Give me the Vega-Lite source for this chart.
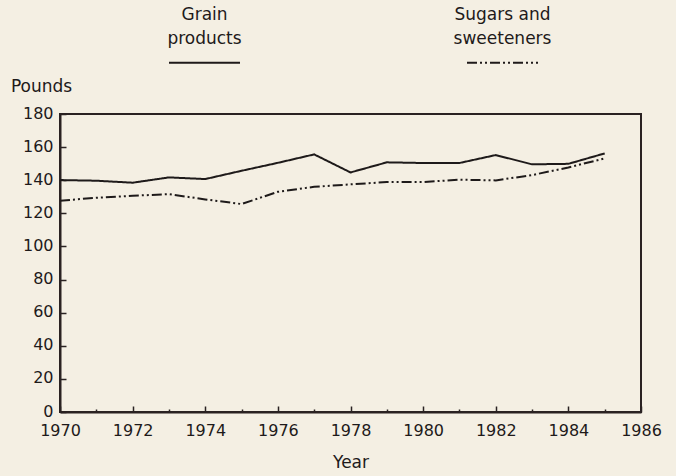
{
  "$schema": "https://vega.github.io/schema/vega-lite/v6.json",
  "width": 581,
  "height": 298,
  "autosize": {"type": "none"},
  "padding": {"left": 60, "top": 114, "right": 35, "bottom": 64},
  "background": "#f4efe3",
  "config": {
    "font": "DejaVu Sans",
    "view": {"stroke": "#2a2222", "strokeWidth": 2},
    "axis": {
      "grid": false,
      "domainColor": "#2a2222",
      "domainWidth": 2,
      "tickColor": "#2a2222",
      "tickWidth": 1.5,
      "labelColor": "#1e1a1a",
      "titleColor": "#1e1a1a",
      "labelFontSize": 16,
      "titleFontSize": 17,
      "titleFontWeight": "normal"
    }
  },
  "data": {
    "values": [
      {"year": 1970, "series": "Grain products", "pounds": 140.1},
      {"year": 1971, "series": "Grain products", "pounds": 139.7},
      {"year": 1972, "series": "Grain products", "pounds": 138.5},
      {"year": 1973, "series": "Grain products", "pounds": 141.7},
      {"year": 1974, "series": "Grain products", "pounds": 140.7},
      {"year": 1975, "series": "Grain products", "pounds": 145.7},
      {"year": 1976, "series": "Grain products", "pounds": 150.5},
      {"year": 1977, "series": "Grain products", "pounds": 155.6},
      {"year": 1978, "series": "Grain products", "pounds": 144.7},
      {"year": 1979, "series": "Grain products", "pounds": 150.8},
      {"year": 1980, "series": "Grain products", "pounds": 150.4},
      {"year": 1981, "series": "Grain products", "pounds": 150.4},
      {"year": 1982, "series": "Grain products", "pounds": 155.2},
      {"year": 1983, "series": "Grain products", "pounds": 149.6},
      {"year": 1984, "series": "Grain products", "pounds": 149.9},
      {"year": 1985, "series": "Grain products", "pounds": 156.2},
      {"year": 1970, "series": "Sugars and sweeteners", "pounds": 127.6},
      {"year": 1971, "series": "Sugars and sweeteners", "pounds": 129.4},
      {"year": 1972, "series": "Sugars and sweeteners", "pounds": 130.6},
      {"year": 1973, "series": "Sugars and sweeteners", "pounds": 131.6},
      {"year": 1974, "series": "Sugars and sweeteners", "pounds": 128.4},
      {"year": 1975, "series": "Sugars and sweeteners", "pounds": 125.6},
      {"year": 1976, "series": "Sugars and sweeteners", "pounds": 133.0},
      {"year": 1977, "series": "Sugars and sweeteners", "pounds": 136.0},
      {"year": 1978, "series": "Sugars and sweeteners", "pounds": 137.5},
      {"year": 1979, "series": "Sugars and sweeteners", "pounds": 138.9},
      {"year": 1980, "series": "Sugars and sweeteners", "pounds": 138.9},
      {"year": 1981, "series": "Sugars and sweeteners", "pounds": 140.3},
      {"year": 1982, "series": "Sugars and sweeteners", "pounds": 139.9},
      {"year": 1983, "series": "Sugars and sweeteners", "pounds": 143.1},
      {"year": 1984, "series": "Sugars and sweeteners", "pounds": 147.7},
      {"year": 1985, "series": "Sugars and sweeteners", "pounds": 153.2}
    ]
  },
  "resolve": {"axis": {"x": "independent"}},
  "layer": [
    {
      "mark": {"type": "line", "strokeWidth": 2, "color": "#1e1a1a"},
      "encoding": {
        "x": {
          "field": "year",
          "type": "quantitative",
          "scale": {"domain": [1970, 1986], "nice": false, "zero": false},
          "axis": {
            "orient": "bottom",
            "values": [1970, 1972, 1974, 1976, 1978, 1980, 1982, 1984, 1986],
            "format": "d",
            "title": "Year",
            "tickSize": -6,
            "labelPadding": 16,
            "titlePadding": 16,
            "labelFlush": false
          }
        },
        "y": {
          "field": "pounds",
          "type": "quantitative",
          "scale": {"domain": [0, 180], "nice": false},
          "axis": {
            "values": [0, 20, 40, 60, 80, 100, 120, 140, 160, 180],
            "title": "Pounds",
            "titleAngle": 0,
            "titleX": -19,
            "titleY": -28,
            "titleAlign": "center",
            "titleBaseline": "middle",
            "tickSize": -6,
            "labelPadding": 13,
            "labelOffset": -1
          }
        },
        "strokeDash": {
          "field": "series",
          "type": "nominal",
          "scale": {
            "domain": ["Grain products", "Sugars and sweeteners"],
            "range": [[1, 0], [10, 3, 2, 3, 2, 3]]
          },
          "legend": {
            "orient": "none",
            "legendX": 108,
            "legendY": -88,
            "direction": "horizontal",
            "columns": 2,
            "title": null,
            "symbolType": "stroke",
            "symbolSize": 5041,
            "symbolStrokeWidth": 2,
            "symbolStrokeColor": "#1e1a1a",
            "labelAlign": "center",
            "labelOffset": -36.5,
            "labelBaseline": "middle",
            "labelFontSize": 17,
            "labelColor": "#1e1a1a",
            "labelLimit": 0,
            "columnPadding": 209,
            "labelExpr": "datum.label == 'Grain products' ? ['Grain', 'products'] : ['Sugars and', 'sweeteners']",
            "encode": {
              "labels": {
                "update": {
                  "dy": {"value": -48},
                  "lineHeight": {"value": 24}
                }
              }
            }
          }
        }
      }
    },
    {
      "mark": {"type": "point", "opacity": 0},
      "encoding": {
        "x": {
          "field": "year",
          "type": "quantitative",
          "axis": {
            "orient": "bottom",
            "values": [1971, 1973, 1975, 1977, 1979, 1981, 1983, 1985],
            "labels": false,
            "title": null,
            "domain": false,
            "tickSize": -3
          }
        }
      }
    }
  ]
}
